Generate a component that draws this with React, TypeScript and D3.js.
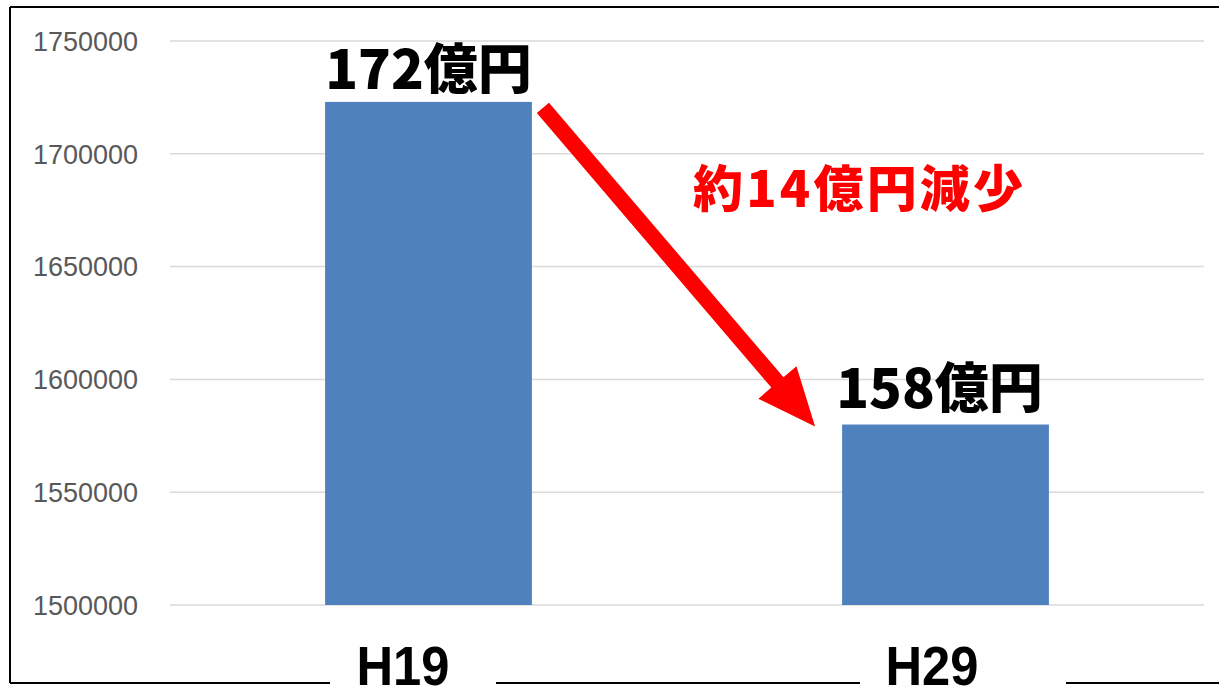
import { useEffect, useRef } from 'react'
import * as d3 from 'd3'

const categories = ['H19', 'H29']
const values = [1723000, 1580000]
const valueLabels = ['172億円', '158億円']
const yTicks = [1500000, 1550000, 1600000, 1650000, 1700000, 1750000]
const noteText = '約14億円減少'

const W = 1219
const H = 686

export default function App() {
  const svgRef = useRef<SVGSVGElement>(null)

  useEffect(() => {
    document.body.style.margin = '0'
    if (!svgRef.current) return
    const svg = d3.select(svgRef.current)
    svg.selectAll('*').remove()

    const plot = { left: 170, right: 1204, top: 41, bottom: 605 }

    const x = d3.scaleBand<string>()
      .domain(categories)
      .range([plot.left, plot.right])
      .paddingInner(0.6)
      .paddingOuter(0.3)

    const y = d3.scaleLinear()
      .domain([1500000, 1750000])
      .range([plot.bottom, plot.top])

    svg.append('rect').attr('width', W).attr('height', H).attr('fill', 'white')

    // grid lines
    svg.append('g')
      .selectAll('line')
      .data(yTicks)
      .join('line')
      .attr('x1', plot.left)
      .attr('x2', plot.right)
      .attr('y1', d => y(d))
      .attr('y2', d => y(d))
      .attr('stroke', '#d9d9d9')
      .attr('stroke-width', 1.5)

    // y labels
    svg.append('g')
      .selectAll('text')
      .data(yTicks)
      .join('text')
      .attr('x', 138)
      .attr('y', d => y(d))
      .attr('dy', '0.36em')
      .attr('text-anchor', 'end')
      .attr('fill', '#595959')
      .attr('font-family', 'Liberation Sans, Arial, sans-serif')
      .attr('font-size', 27)
      .text(d => String(d))

    // bars
    svg.append('g')
      .selectAll('rect')
      .data(values)
      .join('rect')
      .attr('x', (_, i) => x(categories[i])!)
      .attr('y', d => y(d))
      .attr('width', x.bandwidth())
      .attr('height', d => y(1500000) - y(d))
      .attr('fill', '#4f81bd')

    // value labels
    svg.append('g')
      .selectAll('text')
      .data(values)
      .join('text')
      .attr('x', (_, i) => x(categories[i])! + x.bandwidth() / 2 - (i === 0 ? 0 : 6))
      .attr('y', (d, i) => y(d) - (i === 0 ? 13 : 17))
      .attr('text-anchor', 'middle')
      .attr('fill', 'black')
      .attr('font-family', 'Noto Sans CJK JP, sans-serif')
      .attr('font-weight', 900)
      .attr('font-size', 54)
      .text((_, i) => valueLabels[i])

    // frame
    const frame = svg.append('g').attr('stroke', 'black').attr('stroke-width', 2)
    frame.append('line').attr('x1', 10).attr('x2', 10).attr('y1', 7).attr('y2', 683)
    frame.append('line').attr('x1', 10).attr('x2', W).attr('y1', 7).attr('y2', 7)
    frame.append('line').attr('x1', 10).attr('x2', W).attr('y1', 683).attr('y2', 683)

    // category labels with white boxes breaking the bottom line
    const gaps = [[330, 496], [860, 1066]]
    categories.forEach((c, i) => {
      const cx = x(c)! + x.bandwidth() / 2 - (i === 0 ? 26 : 14)
      svg.append('rect')
        .attr('x', gaps[i][0])
        .attr('y', 640)
        .attr('width', gaps[i][1] - gaps[i][0])
        .attr('height', 50)
        .attr('fill', 'white')
      svg.append('text')
        .attr('x', cx - 46)
        .attr('y', 685)
        .attr('fill', 'black')
        .attr('font-family', 'Liberation Sans, Arial, sans-serif')
        .attr('font-weight', 'bold')
        .attr('font-size', 56)
        .attr('textLength', 93)
        .attr('lengthAdjust', 'spacingAndGlyphs')
        .text(c)
    })

    // arrow from bar 1 top to bar 2 top
    const x0 = x(categories[0])! + x.bandwidth() + 11
    const y0 = y(values[0]) + 6
    const x1 = x(categories[1])! - 27
    const y1 = y(values[1]) + 2
    const ang = Math.atan2(y1 - y0, x1 - x0)
    const len = Math.hypot(x1 - x0, y1 - y0)
    const headLen = 58
    const headW = 25
    const shaftW = 8
    const pts: [number, number][] = [
      [0, -shaftW],
      [len - headLen, -shaftW],
      [len - headLen, -headW],
      [len, 0],
      [len - headLen, headW],
      [len - headLen, shaftW],
      [0, shaftW],
    ]
    svg.append('path')
      .attr('transform', `translate(${x0},${y0}) rotate(${(ang * 180) / Math.PI})`)
      .attr('d', d3.line()(pts) + 'Z')
      .attr('fill', '#ff0000')

    // note
    svg.append('text')
      .attr('x', 693)
      .attr('y', 207)
      .attr('fill', '#ff0000')
      .attr('font-family', 'Noto Sans CJK JP, sans-serif')
      .attr('font-weight', 900)
      .attr('font-size', 50)
      .attr('textLength', 330)
      .attr('lengthAdjust', 'spacing')
      .text(noteText)
  }, [])

  return <svg ref={svgRef} width={W} height={H} style={{ display: 'block' }} />
}
